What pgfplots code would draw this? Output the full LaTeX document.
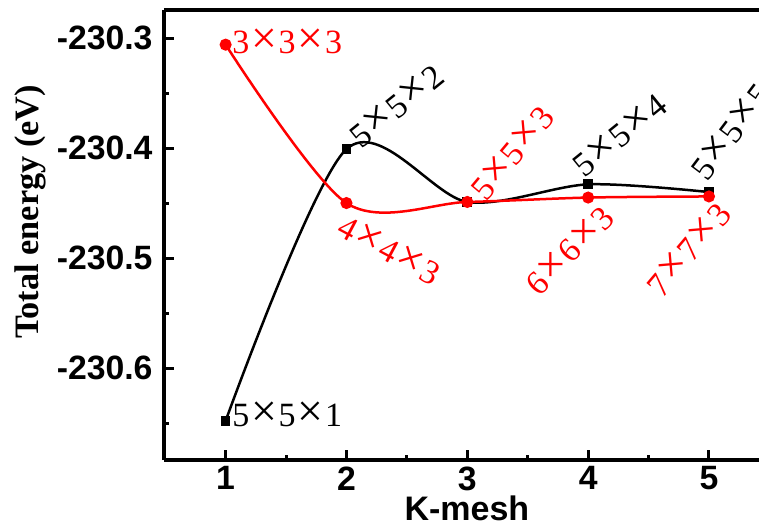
\documentclass[border=0pt]{standalone}
\usepackage{fontspec}
\setmainfont{Liberation Serif}
\newfontfamily\arialfont{Liberation Sans}
\usepackage{graphicx}
\usepackage{pgfplots}
\pgfplotsset{compat=1.18}

\definecolor{pred}{RGB}{255,0,0}
\newcommand{\X}{\kern0.05em\scalebox{1.35}{×}\kern0.05em}
\newcommand{\lblfont}{\fontsize{13.6}{15}\selectfont}

\pgfplotstableread{
x y
1 -230.648
2 -230.401
3 -230.449
4 -230.433
5 -230.440
}\blackdata

\pgfplotstableread{
x y
1 -230.306
2 -230.450
3 -230.449
4 -230.445
5 -230.444
}\reddata

\begin{document}
\begin{tikzpicture}
\begin{axis}[
    scale only axis,
    width=238pt, height=180pt,
    xmin=0.49, xmax=5.414,
    ymin=-230.6836, ymax=-230.2745,
    axis x line=box, axis y line=left,
    x axis line style={-}, y axis line style={-},
    axis line style={line width=1.6pt},
    xtick pos=left,
    tick align=inside,
    major tick length=4pt, minor tick length=2pt,
    every tick/.style={line width=1.2pt, black},
    xtick={1,2,3,4,5}, xticklabels={1,2,3,4,5},
    minor xtick={1.5,2.5,3.5,4.5},
    ytick={-230.6,-230.5,-230.4,-230.3},
    yticklabels={-230.6,-230.5,-230.4,-230.3},
    minor ytick={-230.65,-230.55,-230.45,-230.35},
    xticklabel style={font=\arialfont\bfseries\fontsize{13.5}{15}\selectfont, anchor=north, inner sep=0pt, yshift=-2.4pt},
    yticklabel style={font=\arialfont\bfseries\fontsize{13.5}{15}\selectfont, anchor=east, inner sep=0pt, xshift=-4.4pt},
    xlabel={K-mesh},
    xlabel style={font=\arialfont\bfseries\fontsize{13.6}{15}\selectfont, at={(axis description cs:0.509,0)}, anchor=base, yshift=-24pt},
    ylabel={Total energy (eV)},
    ylabel style={font=\bfseries\fontsize{13.7}{15}\selectfont, at={(axis description cs:-0.2252,0.551)}, anchor=center},
    clip=false,
]
\addplot[black, line width=1pt, smooth, mark=square*, mark size=1.45pt, mark options={solid}] table[x=x,y=y] {\blackdata};
\addplot[pred, line width=1pt, smooth, mark=*, mark size=1.9pt, mark options={solid}] table[x=x,y=y] {\reddata};

\node[font=\lblfont, text=black] at (axis cs:1.51,-230.6418) {5\X5\X1};
\node[font=\lblfont, text=pred] at (axis cs:1.51,-230.3027) {3\X3\X3};
\node[font=\lblfont, text=black, rotate=39] at (axis cs:2.410,-230.3614) {5\X5\X2};
\node[font=\lblfont, text=pred, rotate=50] at (axis cs:3.370,-230.4045) {5\X5\X3};
\node[font=\lblfont, text=black, rotate=39] at (axis cs:4.262,-230.3882) {5\X5\X4};
\node[font=\lblfont, text=black, rotate=53] at (axis cs:5.180,-230.3845) {5\X5\X5};
\node[font=\lblfont, text=pred, rotate=-28] at (axis cs:2.355,-230.4925) {4\X4\X3};
\node[font=\lblfont, text=pred, rotate=45] at (axis cs:3.845,-230.4930) {6\X6\X3};
\node[font=\lblfont, text=pred, rotate=50] at (axis cs:4.830,-230.4920) {7\X7\X3};
\end{axis}
\pgfresetboundingbox
\path[use as bounding box] ([xshift=-65.6pt, yshift=-26pt]current axis.south west) rectangle ([yshift=4pt]current axis.north east);
\end{tikzpicture}
\end{document}
